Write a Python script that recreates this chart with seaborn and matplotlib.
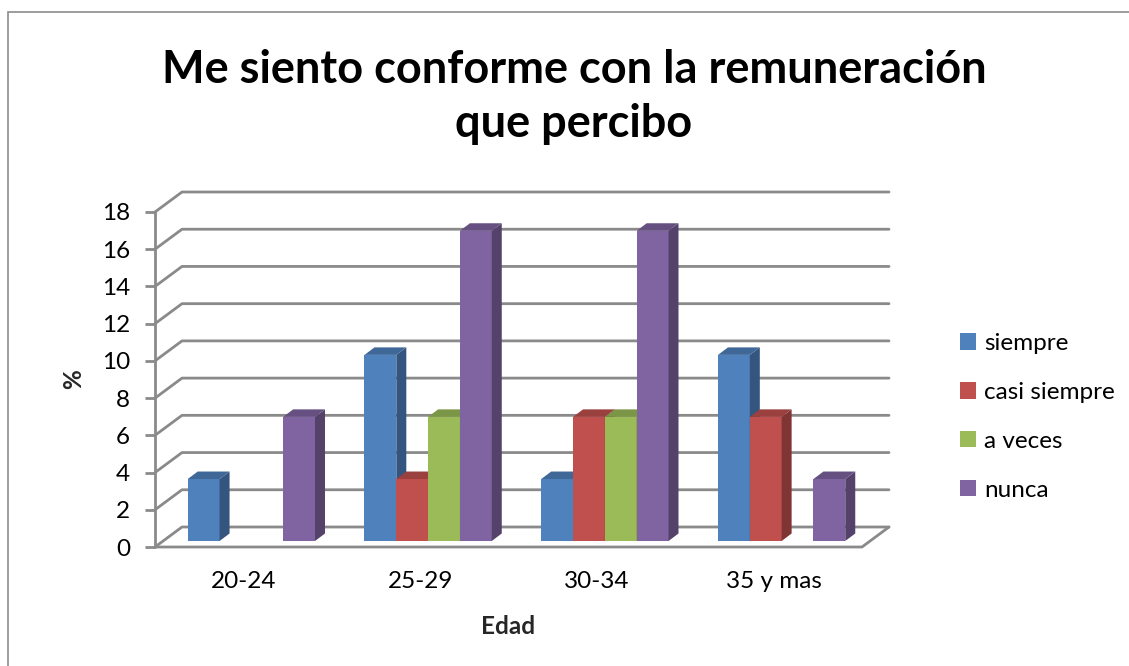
import matplotlib
matplotlib.use("Agg")
import pandas as pd
import matplotlib.pyplot as plt
from matplotlib.patches import Polygon, Rectangle
from matplotlib.colors import to_rgb
import seaborn as sns

# data (% per age group)
edades = ["20-24", "25-29", "30-34", "35 y mas"]
respuestas = ["siempre", "casi siempre", "a veces", "nunca"]
siempre = [3.33, 10.0, 3.33, 10.0]
casi_siempre = [0, 3.33, 6.67, 6.67]
a_veces = [0, 6.67, 6.67, 0]
nunca = [6.67, 16.67, 16.67, 3.33]
colores = ["#4F81BD", "#C0504D", "#9BBB59", "#8064A2"]
y_ticks = list(range(0, 19, 2))

GRAY = "#8a8a8a"
FS = 17.5


def shade(c, f):
    r, g, b = to_rgb(c)
    return (r * f, g * f, b * f)


def make_chart():
    rows = []
    for resp, vals in zip(respuestas, [siempre, casi_siempre, a_veces, nunca]):
        for ed, v in zip(edades, vals):
            rows.append({"Edad": ed, "pct": v, "resp": resp})
    data = pd.DataFrame(rows)

    sns.set_style("white")
    plt.rcParams["font.family"] = ["Lato", "DejaVu Sans"]
    plt.rcParams["text.color"] = "black"
    plt.rcParams["xtick.color"] = "black"
    plt.rcParams["ytick.color"] = "black"

    fig = plt.figure(figsize=(11.29, 6.66), dpi=100)
    ax = fig.add_axes([155 / 1129, 1 - 547 / 666, 707 / 1129, 335 / 666])

    sns.barplot(data=data, x="Edad", y="pct", hue="resp", order=edades,
                hue_order=respuestas, palette=colores, width=0.72,
                saturation=1, dodge=True, ax=ax, legend=False, zorder=3,
                linewidth=0, err_kws={"linewidth": 0})

    ax.set_xlim(-0.5, 3.5)
    ax.set_ylim(0, 18)

    # pixel -> data conversions for the fake depth
    pos = ax.get_position()
    ux = pos.width * 1129 / 4.0
    uy = pos.height * 666 / 18.0

    def dx(px):
        return px / ux

    def dy(px):
        return px / uy

    # back wall / side wall gridlines
    wx, wy = dx(27), dy(20)
    for t in y_ticks:
        ax.plot([-0.5, -0.5 + wx, 3.5 + wx], [t, t + wy, t + wy],
                color=GRAY, lw=2, clip_on=False, zorder=1)
    # floor
    ax.plot([-0.5, 3.5, 3.5 + wx], [0, 0, wy], color=GRAY, lw=2,
            clip_on=False, zorder=1)
    ax.plot([-0.5, -0.5], [0, 18], color=GRAY, lw=2, clip_on=False, zorder=1)

    # 3D bars from seaborn's own patches
    bx, by = dx(8), dy(6)
    sx, sy = dx(10), dy(7.5)
    bars = sorted(ax.patches, key=lambda p: p.get_x())
    for i, p in enumerate(bars):
        h = p.get_height()
        if h <= 0:
            p.set_visible(False)
            continue
        col = p.get_facecolor()
        p.set_x(p.get_x() + bx)
        p.set_y(by)
        z = 3 + i * 0.01
        p.set_zorder(z)
        x0, x1 = p.get_x(), p.get_x() + p.get_width()
        y0, y1 = by, by + h
        side = Polygon([(x1, y0), (x1 + sx, y0 + sy), (x1 + sx, y1 + sy), (x1, y1)],
                       closed=True, facecolor=shade(col[:3], 0.66), lw=0,
                       zorder=z, clip_on=False)
        top = Polygon([(x0, y1), (x1, y1), (x1 + sx, y1 + sy), (x0 + sx, y1 + sy)],
                      closed=True, facecolor=shade(col[:3], 0.8), lw=0,
                      zorder=z, clip_on=False)
        ax.add_patch(side)
        ax.add_patch(top)

    for s in ax.spines.values():
        s.set_visible(False)
    ax.set_yticks(y_ticks)
    ax.tick_params(axis="y", left=True, length=7, width=2, color=GRAY,
                   labelcolor="black", pad=11, labelsize=FS)
    ax.tick_params(axis="x", length=0, pad=17, labelsize=FS,
                   labelcolor="black")
    ax.set_xlabel("Edad", fontsize=FS, fontweight="bold", labelpad=17)
    ax.set_ylabel("%", fontsize=FS, fontweight="bold", labelpad=12)
    ax.grid(False)

    # legend
    handles = [Rectangle((0, 0), 1, 1, facecolor=c, lw=0) for c in colores]
    fig.legend(handles, respuestas, loc="upper left",
               bbox_to_anchor=(960 / 1129, 1 - 333 / 666), frameon=False,
               fontsize=FS, handlelength=0.65, handleheight=0.65,
               handletextpad=0.35, labelspacing=1.15, borderpad=0,
               borderaxespad=0)

    fig.text(574 / 1129, 1 - 97 / 666,
             "Me siento conforme con la remuneración\nque percibo",
             ha="center", va="center", fontsize=32.5, fontweight="bold",
             linespacing=1.38)

    # chart border
    fig.patches.append(Rectangle((8 / 1129, -0.1), 1.2, 1.1 - 12 / 666,
                                 transform=fig.transFigure, fill=False,
                                 edgecolor="#8c8c8c", lw=1.2))

    fig.savefig("out.png", dpi=100)


if __name__ == "__main__":
    make_chart()
